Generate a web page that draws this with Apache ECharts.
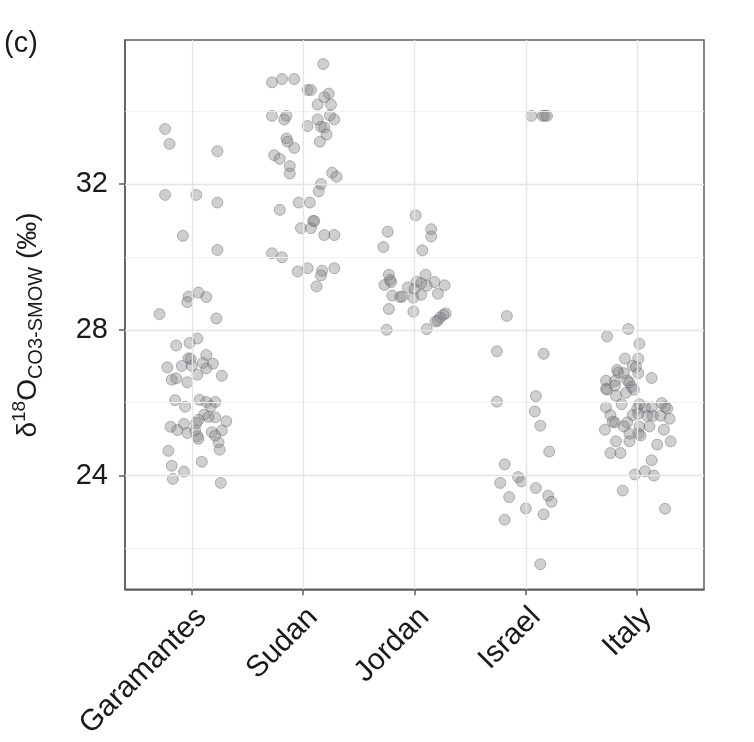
<!DOCTYPE html>
<html>
<head>
<meta charset="utf-8">
<script src="https://cdn.jsdelivr.net/npm/echarts@6/dist/echarts.min.js"></script>
<style>
  html, body { margin: 0; padding: 0; background: #ffffff; }
  #chart { width: 754px; height: 742px; }
</style>
</head>
<body>
<div id="chart"></div>
<script>
// ---------------- data ----------------
const categories = ['Garamantes', 'Sudan', 'Jordan', 'Israel', 'Italy'];
const yTickLabels = [24, 28, 32];
const yMinorGrid = [22, 26, 30, 34];

// horizontal jitter (in category units) and δ18O values for each group
const garamantesJitter = [-0.24,-0.20,0.23,-0.24,0.04,0.23,-0.08,0.23,-0.03,0.06,0.13,-0.04,-0.29,0.22,0.05,-0.14,-0.02,-0.03,-0.01,0.13,-0.22,-0.09,0.00,0.10,0.19,0.13,0.05,0.27,-0.18,-0.14,-0.04,-0.15,0.07,0.13,0.21,-0.06,0.17,0.11,0.15,0.21,0.06,0.31,0.04,-0.19,-0.07,-0.13,-0.04,0.03,0.27,0.18,0.05,0.06,0.21,0.24,0.25,-0.21,0.09,-0.18,-0.07,-0.17,0.26];
const garamantesValues = [33.51,33.10,32.90,31.70,31.70,31.49,30.58,30.19,28.91,29.02,28.90,28.76,28.43,28.31,27.76,27.57,27.64,27.22,27.20,27.31,26.97,27.01,27.01,27.09,27.07,26.94,26.77,26.74,26.63,26.67,26.56,26.07,26.08,26.02,26.02,25.89,25.90,25.67,25.61,25.60,25.53,25.49,25.44,25.34,25.42,25.25,25.17,25.24,25.24,25.19,25.08,25.01,25.10,24.91,24.71,24.68,24.38,24.27,24.11,23.91,23.80];

const sudanJitter = [-0.28,-0.19,-0.08,0.18,0.04,0.07,0.23,0.19,0.13,0.25,-0.28,-0.15,-0.17,0.24,0.28,0.13,0.04,0.16,0.19,0.21,-0.15,-0.14,0.15,-0.08,-0.26,-0.21,-0.12,-0.12,0.26,0.30,0.16,0.14,-0.04,0.06,-0.21,0.09,0.10,-0.02,0.07,0.19,0.28,-0.28,-0.19,-0.05,0.04,0.17,0.16,0.28,0.12];
const sudanValues = [34.79,34.88,34.88,35.29,34.58,34.58,34.48,34.38,34.18,34.18,33.87,33.87,33.77,33.88,33.77,33.77,33.59,33.57,33.55,33.36,33.25,33.16,33.16,32.99,32.79,32.69,32.49,32.29,32.31,32.20,32.00,31.80,31.49,31.49,31.29,30.99,30.98,30.79,30.79,30.60,30.60,30.10,29.99,29.60,29.69,29.62,29.49,29.69,29.19];

const jordanJitter = [0.01,-0.24,0.15,0.15,-0.28,0.07,-0.23,0.10,-0.27,-0.22,-0.21,0.02,0.06,0.18,-0.06,0.00,0.11,0.27,-0.20,-0.13,-0.11,-0.01,0.06,0.21,-0.23,-0.01,0.28,0.26,0.23,0.21,0.19,-0.25,0.11];
const jordanValues = [31.14,30.69,30.76,30.56,30.27,30.18,29.51,29.51,29.23,29.37,29.31,29.32,29.28,29.31,29.16,29.12,29.21,29.22,28.94,28.90,28.91,28.88,28.96,28.99,28.57,28.50,28.45,28.41,28.34,28.25,28.23,28.00,28.02];

const israelJitter = [0.05,0.15,0.17,0.19,-0.17,-0.26,0.16,-0.26,0.09,0.08,0.13,0.21,-0.19,-0.23,-0.07,-0.04,0.09,0.20,0.23,-0.15,0.00,0.16,-0.19,0.13];
const israelValues = [33.87,33.87,33.87,33.87,28.38,27.41,27.34,26.03,26.18,25.76,25.37,24.66,24.31,23.80,23.96,23.84,23.66,23.45,23.28,23.41,23.10,22.94,22.79,21.57];

const italyJitter = [-0.08,-0.27,0.02,-0.11,0.01,-0.04,-0.01,-0.18,-0.17,0.01,-0.12,0.13,-0.28,-0.20,-0.09,-0.07,-0.28,-0.27,-0.20,-0.05,-0.03,-0.10,-0.19,-0.14,-0.28,0.02,0.22,0.00,0.07,0.13,0.25,0.27,-0.24,-0.04,0.01,0.09,0.14,0.21,0.29,-0.20,-0.22,-0.09,-0.12,0.02,0.11,-0.29,0.24,-0.07,0.01,0.03,-0.19,-0.07,0.30,0.18,-0.24,-0.15,0.13,0.07,-0.02,0.15,-0.13,0.25];
const italyValues = [28.02,27.82,27.62,27.21,27.21,27.01,26.98,26.90,26.83,26.81,26.81,26.68,26.60,26.60,26.61,26.56,26.38,26.36,26.47,26.43,26.36,26.27,26.19,25.96,25.87,25.96,25.99,25.84,25.87,25.87,25.88,25.84,25.66,25.66,25.70,25.64,25.64,25.64,25.56,25.46,25.48,25.46,25.35,25.35,25.35,25.26,25.26,25.15,25.15,25.10,24.94,24.94,24.94,24.85,24.62,24.62,24.42,24.12,24.03,24.00,23.59,23.09];

const groups = [
  [garamantesJitter, garamantesValues],
  [sudanJitter, sudanValues],
  [jordanJitter, jordanValues],
  [israelJitter, israelValues],
  [italyJitter, italyValues]
];

// ---------------- chart ----------------
const FONT = '"Liberation Sans", Arial, Helvetica, sans-serif';
const chart = echarts.init(document.getElementById('chart'), null, { renderer: 'canvas' });

const points = [];
groups.forEach(function (g, i) {
  g[1].forEach(function (v, k) { points.push([i + 1 + g[0][k], v]); });
});

const majorLine = { color: '#e4e4e4', width: 1.4, type: 'solid' };
const minorLine = { color: '#f1f1f1', width: 0.9, type: 'solid' };
const gridLines = [];
yTickLabels.forEach(function (v) { gridLines.push({ yAxis: v, lineStyle: majorLine }); });
yMinorGrid.forEach(function (v) { gridLines.push({ yAxis: v, lineStyle: minorLine }); });
categories.forEach(function (c, i) { gridLines.push({ xAxis: i + 1, lineStyle: majorLine }); });

const axisColor = '#5c5c5c';

chart.setOption({
  animation: false,
  backgroundColor: '#ffffff',
  grid: {
    left: 125, right: 50, top: 40, bottom: 152,
    show: true, borderColor: axisColor, borderWidth: 1.5, backgroundColor: '#ffffff'
  },
  xAxis: {
    type: 'value', min: 0.4, max: 5.6,
    axisLine: { show: true, onZero: false, lineStyle: { color: axisColor, width: 1.5 } },
    axisTick: { show: true, length: 6, customValues: [1, 2, 3, 4, 5], lineStyle: { color: axisColor, width: 1.5 } },
    axisLabel: {
      customValues: [1, 2, 3, 4, 5],
      formatter: function (v) { return categories[Math.round(v) - 1] || ''; },
      rotate: 45, margin: 2, verticalAlign: 'top', padding: [7, 8, 0, 0],
      fontSize: 30, color: '#1a1a1a', fontFamily: FONT
    },
    splitLine: { show: false }
  },
  yAxis: {
    type: 'value', min: 20.88, max: 35.95,
    axisLine: { show: true, onZero: false, lineStyle: { color: axisColor, width: 1.5 } },
    axisTick: { show: true, length: 6, customValues: yTickLabels, lineStyle: { color: axisColor, width: 1.5 } },
    axisLabel: {
      customValues: yTickLabels, margin: 17, fontSize: 29, color: '#1a1a1a', fontFamily: FONT
    },
    splitLine: { show: false }
  },
  graphic: [
    {
      type: 'text', left: 4, top: 29,
      style: { text: '(c)', fontSize: 29, fill: '#1a1a1a', fontFamily: FONT }
    },
    {
      type: 'text', x: 28, y: 325, rotation: Math.PI / 2,
      style: {
        text: '{a|δ}{sup|18}{a|O}{sub|CO3-SMOW}{a| (‰)}',
        align: 'center', verticalAlign: 'middle',
        fill: '#1a1a1a', fontFamily: FONT,
        rich: {
          a: { fontSize: 28, fontFamily: FONT, fill: '#1a1a1a', lineHeight: 36, verticalAlign: 'middle' },
          sup: { fontSize: 19, fontFamily: FONT, fill: '#1a1a1a', lineHeight: 36, verticalAlign: 'top' },
          sub: { fontSize: 20, fontFamily: FONT, fill: '#1a1a1a', lineHeight: 36, verticalAlign: 'bottom' }
        }
      }
    }
  ],
  series: [
    {
      type: 'scatter', name: 'grid', z: 1, silent: true, data: [],
      markLine: { silent: true, symbol: 'none', label: { show: false }, animation: false, data: gridLines }
    },
    {
      type: 'scatter', name: 'd18O', z: 3, symbolSize: 11,
      itemStyle: { color: 'rgba(130,130,135,0.48)', borderColor: 'rgba(90,90,95,0.5)', borderWidth: 1 },
      data: points
    }
  ]
});
</script>
</body>
</html>
